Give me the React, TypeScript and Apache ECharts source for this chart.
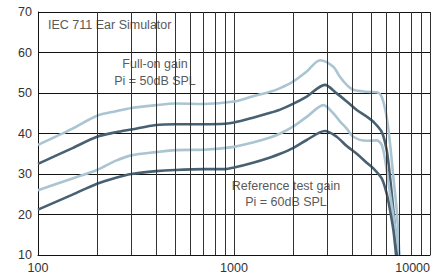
import React, { useEffect, useRef } from "react";
import * as echarts from "echarts";

// Full-on gain, Pi = 50dB SPL (light curve)
const fullOnLightFreq = [100, 150, 200, 250, 300, 400, 500, 700, 1000, 1250, 1530, 1720, 2000, 2350, 2750, 3210, 3470, 3760, 4060, 4750, 5350, 5670, 6010, 6250, 6500, 6760, 6980];
const fullOnLightGain = [37.2, 41.2, 44.4, 45.5, 46.3, 47.0, 47.4, 47.3, 47.9, 49.2, 50.3, 51.2, 52.8, 55.3, 58.1, 56.5, 54.0, 52.0, 50.8, 50.3, 50.2, 49.1, 44.1, 37.6, 29.3, 21.1, 10];

// Full-on gain (dark curve)
const fullOnDarkFreq = [100, 150, 200, 250, 300, 400, 500, 700, 900, 1000, 1250, 1530, 1720, 2000, 2350, 2910, 3340, 3760, 4230, 4750, 5140, 5670, 6010, 6250, 6500, 6810];
const fullOnDarkGain = [32.5, 36.4, 39.2, 40.3, 41.0, 42.1, 42.3, 42.3, 42.4, 42.7, 43.9, 45.1, 45.9, 47.3, 49.1, 52.0, 49.9, 47.9, 45.8, 44.2, 42.9, 40.4, 35.9, 29.3, 21.1, 10];

// Reference test gain, Pi = 60dB SPL (light curve)
const refLightFreq = [100, 150, 200, 250, 300, 400, 500, 700, 1000, 1250, 1530, 1720, 2000, 2350, 2860, 3210, 3470, 3760, 4060, 4750, 5350, 5670, 5900, 6250, 6630, 6980];
const refLightGain = [26.0, 28.9, 31.0, 33.3, 34.6, 35.4, 35.9, 36.0, 36.7, 37.8, 39.0, 40.0, 41.7, 44.1, 47.0, 45.0, 43.0, 41.2, 39.2, 38.2, 38.3, 37.2, 33.5, 25.2, 17.0, 10];

// Reference test gain (dark curve)
const refDarkFreq = [100, 150, 200, 250, 300, 400, 500, 700, 900, 1000, 1250, 1530, 1720, 2000, 2350, 2910, 3340, 3760, 4230, 4750, 5140, 5670, 6010, 6250, 6500, 6710];
const refDarkGain = [21.2, 24.9, 27.6, 29.1, 30.0, 30.7, 31.0, 31.2, 31.2, 31.6, 32.8, 34.1, 35.0, 36.4, 38.4, 40.6, 39.2, 36.9, 35.0, 32.8, 31.4, 28.9, 25.2, 21.1, 16.2, 10];

const minorGridFreqs = [200, 300, 400, 500, 600, 700, 800, 900, 2000, 3000, 4000, 5000, 6000, 7000, 8000, 9000];

const LIGHT = "#aac4d2";
const DARK = "#486172";

function pairs(f: number[], v: number[]) {
  return f.map((x, i) => [x, v[i]]);
}

export default function App() {
  const ref = useRef<HTMLDivElement>(null);
  useEffect(() => {
    if (!ref.current) return;
    const chart = echarts.init(ref.current, null, { renderer: "svg" });
    const font = "'Liberation Sans', Arial, Helvetica, sans-serif";
    const curve = (name: string, data: number[][], color: string) => ({
      name,
      type: "line",
      data,
      z: 3,
      showSymbol: false,
      symbol: "none",
      smooth: 0.3,
      lineStyle: { color, width: 2.6 },
      silent: true,
    });
    chart.setOption({
      animation: false,
      grid: { left: 38, right: 8, top: 12, bottom: 22, containLabel: false },
      xAxis: {
        type: "log",
        logBase: 10,
        min: 100,
        max: 10000,
        axisLine: { show: true, lineStyle: { color: "#111", width: 1 } },
        axisTick: { show: false },
        splitLine: { show: true, lineStyle: { color: "#333", width: 1 } },
        axisLabel: {
          color: "#333",
          fontSize: 12.5,
          fontFamily: font,
          margin: 6,
          alignMaxLabel: "right",
          formatter: (v: number) => String(Math.round(v)),
        },
      },
      yAxis: {
        type: "value",
        min: 10,
        max: 70,
        interval: 10,
        axisLine: { show: true, lineStyle: { color: "#111", width: 1 } },
        axisTick: { show: false },
        splitLine: { show: true, lineStyle: { color: "#111", width: 1 } },
        axisLabel: { color: "#333", fontSize: 12.5, fontFamily: font, margin: 6 },
      },
      series: [
        {
          type: "line",
          data: [[100, 10]],
          z: 1,
          symbol: "none",
          silent: true,
          lineStyle: { opacity: 0 },
          markLine: {
            silent: true,
            symbol: ["none", "none"],
            label: { show: false },
            emphasis: { disabled: true },
            lineStyle: { color: "#333", width: 1, type: "solid" },
            data: minorGridFreqs.map((f) => ({ xAxis: f })),
          },
        },
        curve("Full-on gain light", pairs(fullOnLightFreq, fullOnLightGain), LIGHT),
        curve("Full-on gain dark", pairs(fullOnDarkFreq, fullOnDarkGain), DARK),
        curve("Reference test gain light", pairs(refLightFreq, refLightGain), LIGHT),
        curve("Reference test gain dark", pairs(refDarkFreq, refDarkGain), DARK),
      ],
      graphic: [
        {
          type: "text",
          left: 48,
          top: 18,
          z: 0,
          style: { text: "IEC 711 Ear Simulator", fill: "#5a5a5a", font: `12.5px ${font}` },
        },
        {
          type: "text",
          x: 155,
          y: 72,
          z: 0,
          style: {
            text: "Full-on gain\nPi = 50dB SPL",
            fill: "#5a5a5a",
            font: `12.5px ${font}`,
            align: "center",
            verticalAlign: "middle",
            lineHeight: 17,
          },
        },
        {
          type: "text",
          x: 286,
          y: 194,
          z: 0,
          style: {
            text: "Reference test gain\nPi = 60dB SPL",
            fill: "#5a5a5a",
            font: `12.5px ${font}`,
            align: "center",
            verticalAlign: "middle",
            lineHeight: 16,
          },
        },
      ],
    });
    return () => chart.dispose();
  }, []);
  return (
    <div
      ref={ref}
      style={{ position: "fixed", left: 0, top: 0, width: 438, height: 277, background: "#fff" }}
    />
  );
}
